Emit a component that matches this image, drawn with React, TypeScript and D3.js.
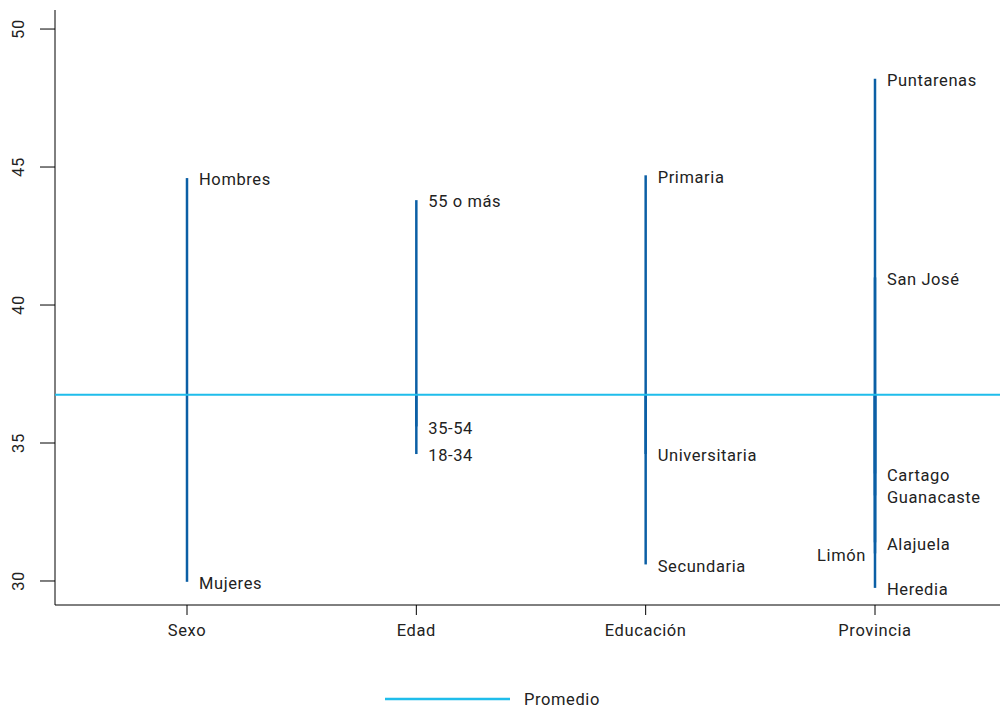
import React, { useEffect, useRef } from 'react';
import * as d3 from 'd3';

// group labels along the x axis
const groups = ['Sexo', 'Edad', 'Educación', 'Provincia'];

// one entry per subgroup: its group, name and value
const sexoNames = ['Hombres', 'Mujeres'];
const sexoValues = [44.6, 29.97];

const edadNames = ['55 o más', '35-54', '18-34'];
const edadValues = [43.8, 35.6, 34.6];

const educNames = ['Primaria', 'Universitaria', 'Secundaria'];
const educValues = [44.7, 34.6, 30.6];

const provNames = ['Puntarenas', 'San José', 'Cartago', 'Guanacaste', 'Alajuela', 'Limón', 'Heredia'];
const provValues = [48.2, 41.0, 33.9, 33.1, 31.4, 31.0, 29.75];

const promedio = 36.75;
const yTicks = [30, 35, 40, 45, 50];

const App: React.FC = () => {
  const svgRef = useRef<SVGSVGElement>(null);
  const width = 1000;
  const height = 708;

  useEffect(() => {
    if (!svgRef.current) return;
    const svg = d3.select(svgRef.current);
    svg.selectAll('*').remove();

    const font = 'Roboto, "Noto Sans", sans-serif';
    const fsize = '16.5px';
    const spacing = '0.6px';
    const left = 55;
    const right = 1000;
    const top = 10;
    const bottom = 605;

    const y = d3.scaleLinear().domain([29.13, 50.69]).range([bottom, top]);
    const x = d3.scalePoint<string>().domain(groups).range([187, 875]);

    const rows = [
      ...sexoNames.map((n, i) => ({ g: 'Sexo', name: n, v: sexoValues[i] })),
      ...edadNames.map((n, i) => ({ g: 'Edad', name: n, v: edadValues[i] })),
      ...educNames.map((n, i) => ({ g: 'Educación', name: n, v: educValues[i] })),
      ...provNames.map((n, i) => ({ g: 'Provincia', name: n, v: provValues[i] })),
    ];

    const styleText = (t: d3.Selection<SVGTextElement, any, any, any>) =>
      t.style('font-family', font)
        .style('font-size', fsize)
        .style('letter-spacing', spacing)
        .style('fill', '#222');

    // axes
    const yAxis = svg.append('g').attr('transform', `translate(${left},0)`);
    yAxis.append('line').attr('x1', 0).attr('x2', 0).attr('y1', top).attr('y2', bottom).attr('stroke', '#000');
    yTicks.forEach(t => {
      yAxis.append('line').attr('x1', -15).attr('x2', 0).attr('y1', y(t)).attr('y2', y(t)).attr('stroke', '#000');
      yAxis.append('text')
        .attr('transform', `translate(-37,${y(t)}) rotate(-90)`)
        .attr('text-anchor', 'middle')
        .attr('dy', '0.35em')
        .call(styleText)
        .text(t);
    });

    const xAxis = svg.append('g');
    xAxis.append('line').attr('x1', left).attr('x2', right).attr('y1', bottom).attr('y2', bottom).attr('stroke', '#000');
    groups.forEach(gname => {
      const gx = x(gname)!;
      xAxis.append('line').attr('x1', gx).attr('x2', gx).attr('y1', bottom).attr('y2', bottom + 10).attr('stroke', '#000');
      xAxis.append('text')
        .attr('x', gx)
        .attr('y', bottom + 31)
        .attr('text-anchor', 'middle')
        .call(styleText)
        .text(gname);
    });

    // segments from promedio to each value
    svg.append('g').selectAll('line')
      .data(rows)
      .enter().append('line')
      .attr('x1', d => x(d.g)!)
      .attr('x2', d => x(d.g)!)
      .attr('y1', y(promedio))
      .attr('y2', d => y(d.v))
      .attr('stroke', '#0b5fa5')
      .attr('stroke-width', 2.5);

    // promedio line
    svg.append('line')
      .attr('x1', left).attr('x2', right)
      .attr('y1', y(promedio)).attr('y2', y(promedio))
      .attr('stroke', '#1fbdeb')
      .attr('stroke-width', 2);

    // labels
    svg.append('g').selectAll('text')
      .data(rows)
      .enter().append('text')
      .attr('x', d => d.name === 'Limón' ? x(d.g)! - 9 : x(d.g)! + 12)
      .attr('y', d => y(d.v) + 1.5)
      .attr('text-anchor', d => d.name === 'Limón' ? 'end' : 'start')
      .attr('dy', '0.35em')
      .call(styleText)
      .text(d => d.name);

    // legend
    const leg = svg.append('g').attr('transform', 'translate(385,699)');
    leg.append('line').attr('x1', 0).attr('x2', 125).attr('y1', 0).attr('y2', 0)
      .attr('stroke', '#1fbdeb').attr('stroke-width', 2.5);
    leg.append('text')
      .attr('x', 139).attr('y', 0).attr('dy', '0.35em')
      .call(styleText)
      .text('Promedio');
  }, []);

  return (
    <svg
      ref={svgRef}
      width={width}
      height={height}
      style={{ position: 'absolute', top: 0, left: 0, background: '#fff' }}
    />
  );
};

export default App;
